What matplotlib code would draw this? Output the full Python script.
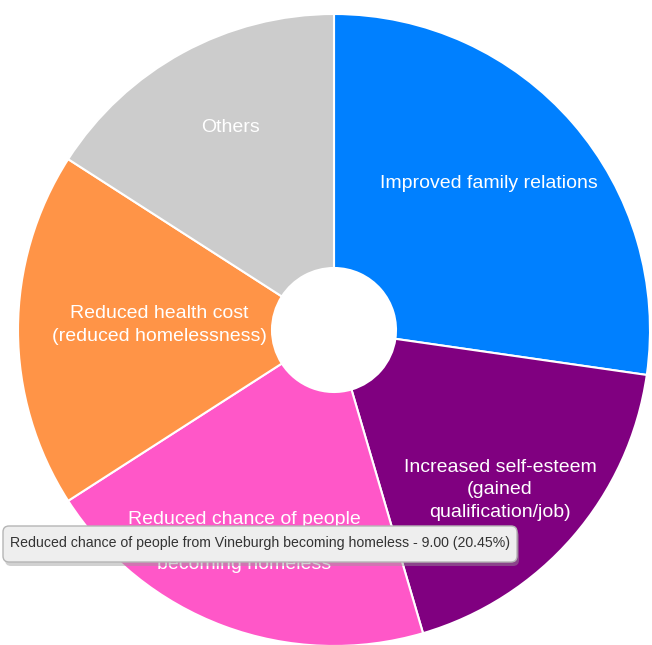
import matplotlib
matplotlib.use("Agg")
import matplotlib.pyplot as plt
from matplotlib.patches import FancyBboxPatch

plt.rcParams["font.family"] = ["Liberation Sans", "DejaVu Sans"]

labels = ["Improved family relations",
          "Increased self-esteem\n(gained\nqualification/job)",
          "Reduced chance of people\nfrom Vineburgh\nbecoming homeless",
          "Reduced health cost\n(reduced homelessness)",
          "Others"]
values = [12, 8, 9, 8, 7]
colors = ["#0080ff", "#800080", "#ff57c8", "#ff9447", "#cccccc"]
tip = "Reduced chance of people from Vineburgh becoming homeless - 9.00 (20.45%)"

W, H = 652, 645
fig = plt.figure(figsize=(W / 100, H / 100), dpi=100)
ax = fig.add_axes([0, 0, 1, 1])

cx, cy, R, r_in = 334, H - 330, 316, 62
ax.pie(values, colors=colors, startangle=90, counterclock=False, radius=R, center=(cx, cy),
       wedgeprops=dict(width=R - r_in, edgecolor="white", linewidth=1.5), frame=True)
ax.set_xlim(0, W); ax.set_ylim(0, H); ax.set_aspect("equal"); ax.axis("off")

# label positions in pixels (x, y from top)
pos = [(489, 184), (500, 490), (244, 542), (159, 325), (230, 127)]
for lbl, (x, y) in zip(labels, pos):
    ax.text(x, H - y, lbl, ha="center", va="center", color="white", fontsize=14,
            linespacing=1.4)

# tooltip
box = FancyBboxPatch((5, H - 566), 514, 36, boxstyle="round,pad=0,rounding_size=6",
                     fc="#999999", ec="none", alpha=0.45, zorder=5)
ax.add_patch(box)
box = FancyBboxPatch((3, H - 562), 514, 36, boxstyle="round,pad=0,rounding_size=6",
                     fc="#eeeeee", ec="#b5b5b5", lw=1, zorder=6)
ax.add_patch(box)
ax.text(260, H - 543, tip, ha="center", va="center", color="#333333", fontsize=10.2, zorder=7)

fig.savefig("out.png", dpi=100)
